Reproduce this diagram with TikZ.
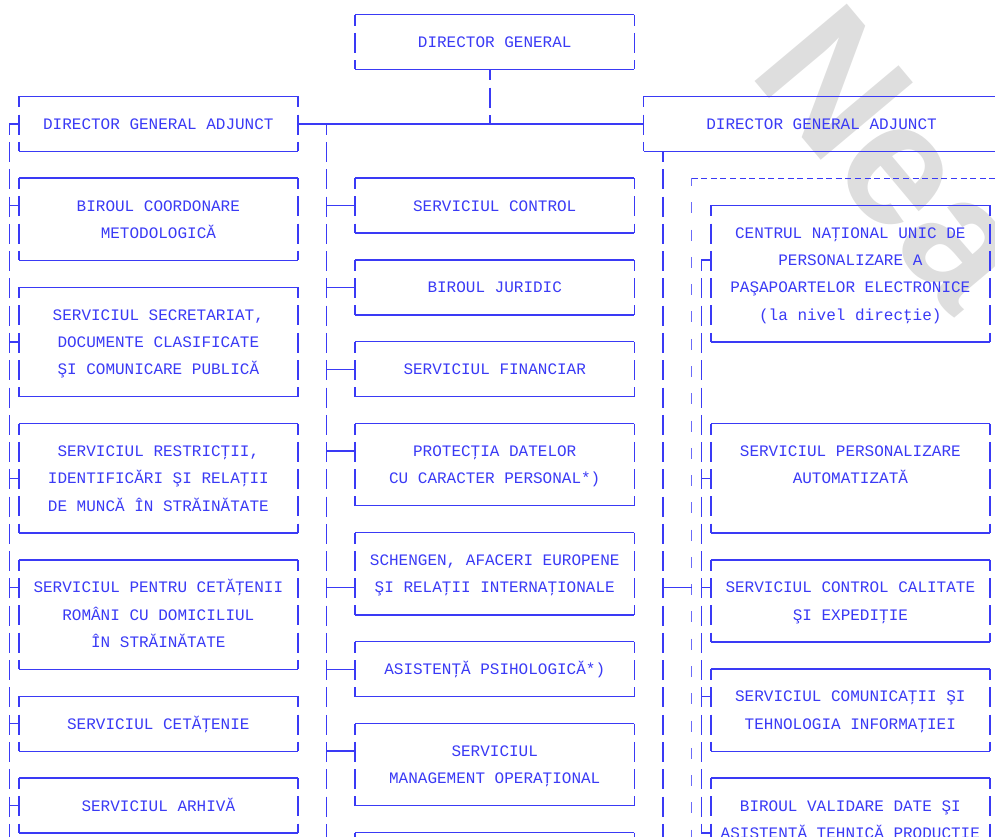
\documentclass[tikz,border=0pt]{standalone}
\usepackage{fontspec}
\setmonofont{Liberation Mono}
\setsansfont{Liberation Sans}
\definecolor{ink}{RGB}{58,58,245}
\newcommand{\boxtext}[1]{\begin{tabular}{@{}c@{}}#1\end{tabular}}

\begin{document}
\begin{tikzpicture}[
        x=9.611pt, y=-27.27pt,
        box/.style={minimum width=278.72pt, inner sep=0pt, text=ink,
            font=\ttfamily\fontsize{16}{27.27}\selectfont},
        tall/.style={minimum height=#1*27.27pt},
        hline/.style={ink, line width=1.4pt},
        vline/.style={ink, line width=1.4pt, dash pattern=on 20pt off 7.27pt, dash phase=9pt},
        grouptop/.style={ink, line width=1pt, dash pattern=on 6pt off 3.61pt},
        groupside/.style={ink!75, line width=0.8pt, dash pattern=on 11pt off 16.27pt, dash phase=3pt},
        wmark/.style={text=gray!26, font=\sffamily\bfseries\fontsize{175}{175}\selectfont, inner sep=0pt}
    ]
        \useasboundingbox (-1.977,-1.540) rectangle (101.55,29.153);
        \clip (-1.977,-1.540) rectangle (101.55,29.153);

        % watermark
        \node[wmark, rotate=-50, anchor=base west] (wm) at (728pt,-30pt) {Nea};

        % conducere
        \node[box, tall=2] (dg) at (49.5,0) {\boxtext{DIRECTOR GENERAL}};
        \node[box, tall=2] (dga1) at (14.5,3) {\boxtext{DIRECTOR GENERAL ADJUNCT}};
        \node[box, tall=2, minimum width=355.6pt] (dga2) at (83.5,3) {\boxtext{DIRECTOR GENERAL ADJUNCT}};

        % coloana stanga
        \node[box, tall=3] (bcm) at (14.5,6.5) {\boxtext{BIROUL COORDONARE\\METODOLOGICĂ}};
        \node[box, tall=4] (ssec) at (14.5,11) {\boxtext{SERVICIUL SECRETARIAT,\\DOCUMENTE CLASIFICATE\\ŞI COMUNICARE PUBLICĂ}};
        \node[box, tall=4] (sres) at (14.5,16) {\boxtext{SERVICIUL RESTRICŢII,\\IDENTIFICĂRI ŞI RELAŢII\\DE MUNCĂ ÎN STRĂINĂTATE}};
        \node[box, tall=4] (spcr) at (14.5,21) {\boxtext{SERVICIUL PENTRU CETĂŢENII\\ROMÂNI CU DOMICILIUL\\ÎN STRĂINĂTATE}};
        \node[box, tall=2] (scet) at (14.5,25) {\boxtext{SERVICIUL CETĂŢENIE}};
        \node[box, tall=2] (sarh) at (14.5,28) {\boxtext{SERVICIUL ARHIVĂ}};

        % coloana centrala
        \node[box, tall=2] (sctl) at (49.5,6) {\boxtext{SERVICIUL CONTROL}};
        \node[box, tall=2] (bjur) at (49.5,9) {\boxtext{BIROUL JURIDIC}};
        \node[box, tall=2] (sfin) at (49.5,12) {\boxtext{SERVICIUL FINANCIAR}};
        \node[box, tall=3] (pdcp) at (49.5,15.5) {\boxtext{PROTECŢIA DATELOR\\CU CARACTER PERSONAL*)}};
        \node[box, tall=3] (sare) at (49.5,19.5) {\boxtext{SCHENGEN, AFACERI EUROPENE\\ŞI RELAŢII INTERNAŢIONALE}};
        \node[box, tall=2] (apsi) at (49.5,23) {\boxtext{ASISTENŢĂ PSIHOLOGICĂ*)}};
        \node[box, tall=3] (smop) at (49.5,26.5) {\boxtext{SERVICIUL\\MANAGEMENT OPERAŢIONAL}};
        \node[box, tall=2] (snext) at (49.5,30) {};

        % coloana dreapta
        \node[inner sep=0pt, minimum width=346pt, tall=27] (grp) at (88,18.5) {};
        \node[box, tall=5] (cnup) at (86.5,8.5) {\boxtext{CENTRUL NAŢIONAL UNIC DE\\PERSONALIZARE A\\PAŞAPOARTELOR ELECTRONICE\\(la nivel direcţie)}};
        \node[box, tall=4] (spa) at (86.5,16) {\boxtext{SERVICIUL PERSONALIZARE\\AUTOMATIZATĂ\\\mbox{}}};
        \node[box, tall=3] (scce) at (86.5,20.5) {\boxtext{SERVICIUL CONTROL CALITATE\\ŞI EXPEDIŢIE}};
        \node[box, tall=3] (scti) at (86.5,24.5) {\boxtext{SERVICIUL COMUNICAŢII ŞI\\TEHNOLOGIA INFORMAŢIEI}};
        \node[box, tall=3] (bvd) at (86.5,28.5) {\boxtext{BIROUL VALIDARE DATE ŞI\\ASISTENŢĂ TEHNICĂ PRODUCŢIE}};

        % chenare
        \foreach \n in {dg,dga1,dga2,bcm,ssec,sres,spcr,scet,sarh,sctl,bjur,sfin,pdcp,sare,apsi,smop,snext,cnup,spa,scce,scti,bvd} {
            \draw[hline] (\n.north west) -- (\n.north east);
            \draw[hline] (\n.south west) -- (\n.south east);
            \draw[vline] (\n.north west) -- (\n.south west);
            \draw[vline] (\n.north east) -- (\n.south east);
        }
        \draw[grouptop] (grp.north west) -- (grp.north east);
        \draw[groupside] (grp.north west) -- (grp.south west);

        % legaturi
        \coordinate (hub) at (49,3);
        \coordinate (ltop) at (-1,3);
        \coordinate (lend) at (-1,31);
        \coordinate (mtop) at (32,3);
        \coordinate (mend) at (32,31);
        \coordinate (rtop) at (67,4);
        \coordinate (rend) at (67,31);
        \coordinate (itop) at (71,8);
        \coordinate (iend) at (71,29);

        \draw[vline] (dg.south -| hub) -- (hub);
        \draw[hline] (dga1.east) -- (dga2.west);
        \draw[hline] (ltop) -- (dga1.west);
        \draw[vline] (ltop) -- (lend);
        \draw[vline] (mtop) -- (mend);
        \draw[vline] (rtop) -- (rend);
        \draw[vline] (itop) -- (iend);
        \draw[hline] (rtop |- 0,20) -- (grp.west |- 0,20);

        \foreach \n/\r in {bcm/6,ssec/11,sres/16,spcr/20,scet/25,sarh/28}
            \draw[hline] (ltop |- 0,\r) -- (\n.west |- 0,\r);
        \foreach \n/\r in {sctl/6,bjur/9,sfin/12,pdcp/15,sare/20,apsi/23,smop/26}
            \draw[hline] (mtop |- 0,\r) -- (\n.west |- 0,\r);
        \foreach \n/\r in {cnup/8,spa/16,scce/20,scti/24,bvd/29}
            \draw[hline] (itop |- 0,\r) -- (\n.west |- 0,\r);
    \end{tikzpicture}
\end{document}
